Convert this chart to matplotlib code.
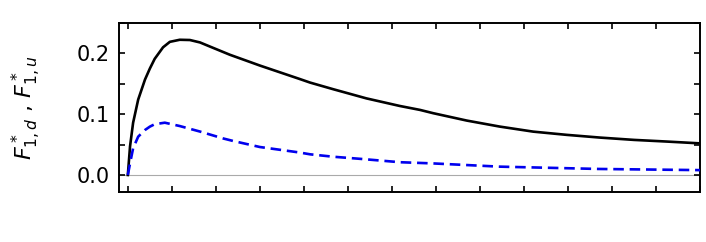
import numpy as np
import matplotlib.pyplot as plt
from matplotlib.ticker import MultipleLocator, FuncFormatter

# values
x_d = [0.0, 0.05, 0.12, 0.235, 0.39, 0.5, 0.61, 0.8, 0.955, 1.18, 1.41, 1.64, 1.86, 2.32,
       2.77, 3.0, 3.45, 3.9, 4.14, 4.67, 5.27, 5.42, 6.18, 6.64, 6.94, 7.7, 8.45, 9.21,
       9.97, 10.73, 11.5, 12.24, 13.0]
f_d = [0.0, 0.047, 0.086, 0.124, 0.157, 0.175, 0.191, 0.210, 0.219, 0.2224, 0.222, 0.218, 0.2114, 0.1977,
       0.186, 0.180, 0.169, 0.158, 0.152, 0.141, 0.129, 0.126, 0.1135, 0.107, 0.1016, 0.0895, 0.0796, 0.0713,
       0.066, 0.0615, 0.0577, 0.055, 0.052]

x_u = [0.0, 0.05, 0.12, 0.235, 0.39, 0.5, 0.61, 0.84, 1.18, 1.64, 2.17, 2.39, 3.0, 3.9, 4.14,
       4.67, 5.27, 6.18, 6.94, 8.45, 10.7, 13.0]
f_u = [0.0, 0.019, 0.044, 0.063, 0.074, 0.0795, 0.0835, 0.086, 0.0805, 0.0714, 0.060, 0.056, 0.046, 0.037, 0.034,
       0.030, 0.0266, 0.021, 0.019, 0.0137, 0.0099, 0.008]

fig = plt.figure(figsize=(7.06, 2.42), dpi=100)
ax = fig.add_axes([0.1686, 0.2066, 0.8229, 0.6984])

ax.axhline(0, color='#aaaaaa', lw=0.8, zorder=1)
ax.plot(x_d, f_d, color='black', lw=1.9, zorder=3)
ax.plot(x_u, f_u, color='#0000ee', lw=1.9, ls=(0, (4, 2.2)), zorder=3)

ax.set_xlim(-0.2, 13)
ax.set_ylim(-0.028, 0.25)
ax.xaxis.set_major_locator(MultipleLocator(1))
ax.yaxis.set_major_locator(MultipleLocator(0.05))
ax.yaxis.set_major_formatter(FuncFormatter(
    lambda v, p: '%.1f' % v if abs(round(v / 0.1) * 0.1 - v) < 1e-6 else ''))
ax.tick_params(direction='in', top=True, right=True, length=4, width=1.2,
               labelbottom=False, labelsize=15, pad=7)
for s in ax.spines.values():
    s.set_linewidth(1.4)

ax.set_ylabel(r'$F^*_{1,d}$ , $F^*_{1,u}$', fontsize=16, labelpad=24)

fig.savefig('out.png', dpi=100)
